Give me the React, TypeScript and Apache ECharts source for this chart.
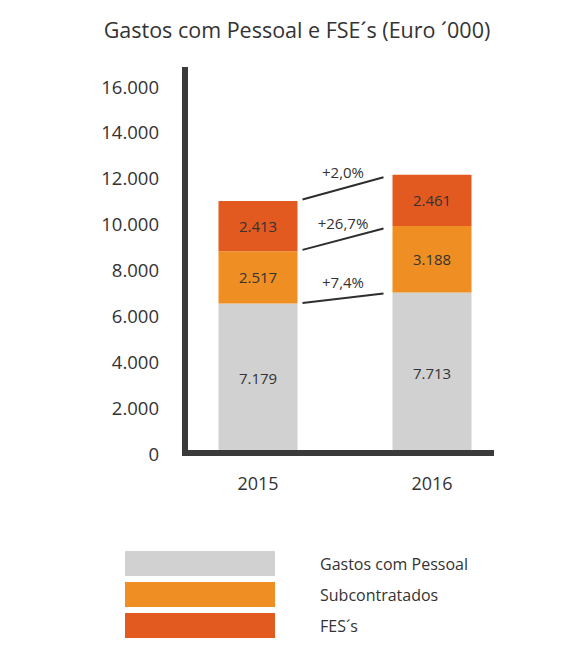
import { useEffect, useRef } from 'react';
import * as echarts from 'echarts';

// ---- data ----
const years = ['2015', '2016'];
const seriesNames = ['Gastos com Pessoal', 'Subcontratados', 'FES´s'];
const gastosPessoal = [7179, 7713];
const subcontratados = [2517, 3188];
const fes = [2413, 2461];
const titleText = 'Gastos com Pessoal e FSE´s (Euro ´000)';

// ---- styles ----
const FONT = '"Open Sans", "Noto Sans", sans-serif';
const TEXT = '#333333';
const AXIS = '#3a3a3a';
const colors = ['#d1d1d1', '#ef8f23', '#e35a21'];
const BAR_W = 79;

const fmt = (n: number) => String(Math.round(n)).replace(/\B(?=(\d{3})+(?!\d))/g, '.');

export default function App() {
  const ref = useRef<HTMLDivElement>(null);
  useEffect(() => {
    if (!ref.current) return;
    const chart = echarts.init(ref.current, undefined, { renderer: 'svg' });

    const segs = [gastosPessoal, subcontratados, fes];
    // cumulative tops of each segment for each year
    const tops = segs.map((_, k) =>
      years.map((__, j) => segs.slice(0, k + 1).reduce((s, arr) => s + arr[j], 0))
    );
    const pctLabels = segs.map(
      (arr) => '+' + ((arr[1] / arr[0] - 1) * 100).toFixed(1).replace('.', ',') + '%'
    );
    const annoData = tops.map((t) => [0, t[0], 1, t[1]]);

    const gridTop = 70;
    const gridBottom = 209;

    chart.setOption({
      animation: false,
      title: {
        text: titleText,
        left: 297,
        top: 18,
        padding: 0,
        textAlign: 'center',
        textStyle: { fontFamily: FONT, fontSize: 21.5, fontWeight: 'normal', color: TEXT },
      },
      legend: {
        data: seriesNames,
        orient: 'vertical',
        left: 125,
        top: 551,
        padding: 0,
        itemWidth: 150,
        itemHeight: 25,
        itemGap: 6,
        icon: 'rect',
        selectedMode: false,
        textStyle: { fontFamily: FONT, fontSize: 16, color: TEXT, padding: [0, 0, 0, 40] },
      },
      grid: [
        { left: 185, right: 82, top: gridTop, bottom: gridBottom },
        { left: 171, right: 54, top: gridTop, bottom: gridBottom },
      ],
      xAxis: [
        {
          gridIndex: 0,
          type: 'value',
          min: 0,
          max: 1,
          z: 5,
          axisLine: { show: true, lineStyle: { color: AXIS, width: 6, cap: 'square' } },
          axisTick: { show: false },
          axisLabel: { show: false },
          splitLine: { show: false },
        },
        {
          gridIndex: 1,
          type: 'category',
          data: years,
          axisLine: { show: false },
          axisTick: { show: false },
          axisLabel: { fontFamily: FONT, fontSize: 18, color: TEXT, margin: 21 },
        },
      ],
      yAxis: [
        {
          gridIndex: 0,
          type: 'value',
          min: 0,
          max: 16700,
          interval: 2000,
          z: 5,
          axisLine: { show: true, lineStyle: { color: AXIS, width: 6, cap: 'square' } },
          axisTick: { show: false },
          splitLine: { show: false },
          axisLabel: {
            fontFamily: FONT,
            fontSize: 18.5,
            color: TEXT,
            margin: 26,
            formatter: (v: number) => (v % 2000 === 0 ? fmt(v) : ''),
          },
        },
        {
          gridIndex: 1,
          type: 'value',
          min: 0,
          max: 18400,
          show: false,
          splitLine: { show: false },
        },
      ],
      series: [
        ...segs.map((arr, k) => ({
          name: seriesNames[k],
          type: 'bar',
          stack: 'total',
          xAxisIndex: 1,
          yAxisIndex: 1,
          barWidth: BAR_W,
          data: arr,
          itemStyle: { color: colors[k] },
          label: {
            show: true,
            position: 'inside',
            fontFamily: FONT,
            fontSize: 15,
            color: TEXT,
            formatter: (p: any) => fmt(p.value),
          },
        })),
        {
          type: 'custom',
          xAxisIndex: 1,
          yAxisIndex: 1,
          z: 4,
          encode: { x: [0, 2], y: [1, 3] },
          data: annoData,
          renderItem: (params: any, api: any) => {
            const a = api.coord([api.value(0), api.value(1)]);
            const b = api.coord([api.value(2), api.value(3)]);
            const xa = a[0] + BAR_W / 2;
            const xb = b[0] - BAR_W / 2;
            const slope = (b[1] - a[1]) / (xb - xa);
            const x1 = xa + 5;
            const x2 = xb - 9;
            const y1 = a[1] + slope * 5;
            const y2 = b[1] - slope * 9;
            return {
              type: 'group',
              children: [
                {
                  type: 'line',
                  shape: { x1, y1, x2, y2 },
                  style: { stroke: '#2e2e2e', lineWidth: 2 },
                },
                {
                  type: 'text',
                  style: {
                    text: pctLabels[params.dataIndex],
                    x: (x1 + x2) / 2,
                    y: (y1 + y2) / 2 - 16,
                    align: 'center',
                    verticalAlign: 'middle',
                    fontFamily: FONT,
                    fontSize: 15,
                    fill: TEXT,
                  },
                },
              ],
            };
          },
        },
      ],
    });
    return () => chart.dispose();
  }, []);
  return (
    <div
      ref={ref}
      style={{ position: 'fixed', left: 0, top: 0, width: 573, height: 662, background: '#fff' }}
    />
  );
}
